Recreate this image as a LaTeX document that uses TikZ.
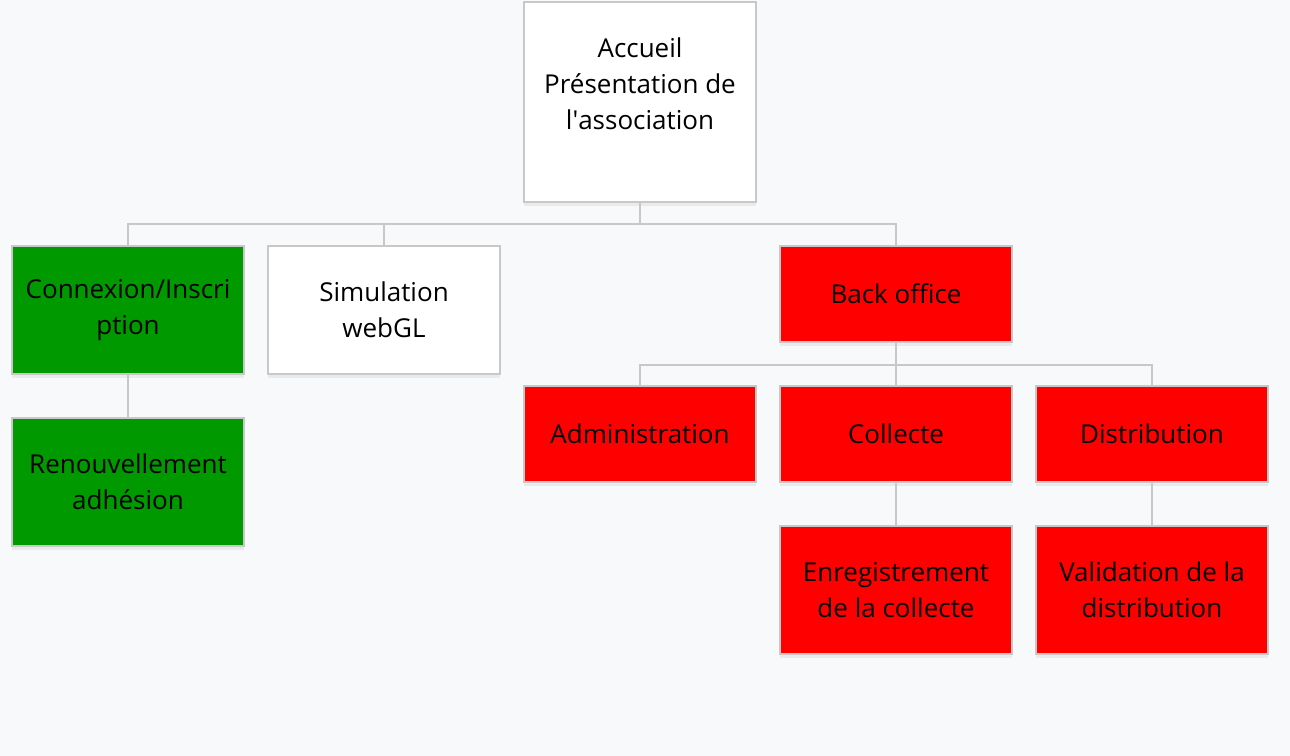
\documentclass[tikz,border=0pt]{standalone}
\usepackage{fontspec}
\setmainfont{Open Sans}
\usetikzlibrary{shadows}
\definecolor{bggray}{HTML}{F8F9FA}
\definecolor{edgegray}{HTML}{C8C8C8}
\definecolor{boxgreen}{HTML}{009900}
\definecolor{boxred}{HTML}{FF0000}
\tikzset{
  page/.style={draw=edgegray, line width=1.2pt, align=center,
    font=\fontsize{14.8}{20.5}\selectfont,
    drop shadow={shadow xshift=0pt, shadow yshift=-2.5pt, opacity=0.06, fill=black},
    inner sep=0pt, minimum width=4.64cm},
  tall/.style={page, minimum height=2.56cm},
  short/.style={page, minimum height=1.92cm},
  white/.style={fill=white},
  green/.style={fill=boxgreen},
  red/.style={fill=boxred},
  link/.style={draw=edgegray, line width=1.2pt}
}
\begin{document}
\begin{tikzpicture}[x=0.02cm, y=-0.02cm]
    \fill[bggray] (0,0) rectangle (1290,756);
    \useasboundingbox (0,0) rectangle (1290,756);
    % site map: home page and its sub pages
    \node (acc) at (640,102) [page, white, minimum height=4cm] {Accueil\\Présentation de\\l\textquotesingle association\\\mbox{}};

    \node (con) at (128,310) [tall, green] {Connexion/Inscri\\ption};
    \node (sim) at (384,310) [tall, white] {Simulation\\webGL};
    \node (back) at (896,294) [short, red] {Back office};

    \node (ren) at (128,482) [tall, green] {Renouvellement\\adhésion};

    \node (adm) at (640,434) [short, red] {Administration};
    \node (col) at (896,434) [short, red] {Collecte};
    \node (dis) at (1152,434) [short, red] {Distribution};

    \node (enr) at (896,590) [tall, red] {Enregistrement\\de la collecte};
    \node (val) at (1152,590) [tall, red] {Validation de la\\distribution};

    \coordinate (j1) at (640,224);
    \coordinate (j2) at (896,365);

    \draw [link] (acc) -- (j1);
    \draw [link] (j1) -| (con.north);
    \draw [link] (j1) -| (sim.north);
    \draw [link] (j1) -| (back.north);
    \draw [link] (con) -- (ren);
    \draw [link] (back) -- (j2);
    \draw [link] (j2) -| (adm.north);
    \draw [link] (j2) -- (col);
    \draw [link] (j2) -| (dis.north);
    \draw [link] (col) -- (enr);
    \draw [link] (dis) -- (val);
\end{tikzpicture}
\end{document}
